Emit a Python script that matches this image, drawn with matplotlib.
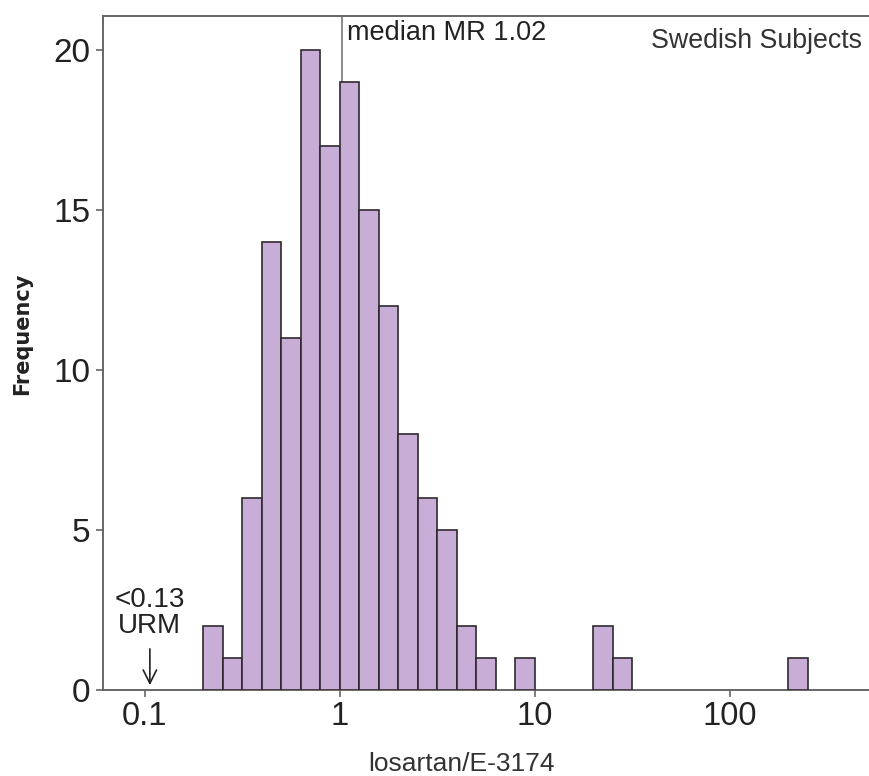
import numpy as np
import matplotlib
matplotlib.use("Agg")
import matplotlib.pyplot as plt

# histogram of losartan/E-3174 ratios, bins 0.1 decade wide (log10 of left edge)
log_left = [-0.7, -0.6, -0.5, -0.4, -0.3, -0.2, -0.1, 0.0, 0.1, 0.2,
            0.3, 0.4, 0.5, 0.6, 0.7, 0.9, 1.3, 1.4, 2.3]
counts = [2, 1, 6, 14, 11, 20, 17, 19, 15, 12,
          8, 6, 5, 2, 1, 1, 2, 1, 1]
bin_w = 0.1
median_mr = 1.02
xticks = [0.1, 1, 10, 100]
xticklabels = ["0.1", "1", "10", "100"]
yticks = [0, 5, 10, 15, 20]

plt.rcParams['font.family'] = ['Liberation Sans', 'DejaVu Sans']

left = 10 ** np.array(log_left)
right = 10 ** (np.array(log_left) + bin_w)

fig = plt.figure(figsize=(8.7, 7.76), dpi=100)
ax = fig.add_axes([103/870, 1-690/776, 767/870, (690-15.7)/776])

ax.bar(left, counts, width=right - left, align='edge',
       color='#c8aed6', edgecolor='#2e2a30', linewidth=1.2, zorder=3)
ax.axvline(median_mr, color='#777777', lw=1.2, zorder=2)

ax.set_xscale('log')
ax.set_xlim(10 ** -1.215, 10 ** 2.718)
ax.set_ylim(0, 21.07)
ax.set_xticks(xticks)
ax.set_xticklabels(xticklabels)
ax.xaxis.set_minor_locator(matplotlib.ticker.NullLocator())
ax.set_yticks(yticks)

for s in ['left', 'bottom', 'top']:
    ax.spines[s].set_color('#666666')
    ax.spines[s].set_linewidth(1.4)
ax.spines['right'].set_visible(False)
ax.tick_params(axis='both', length=5, width=1.2, color='#666666', labelcolor='#222222')
ax.tick_params(axis='x', labelsize=23.5, pad=3)
ax.tick_params(axis='y', labelsize=24, pad=4)

ax.text(1.09, 20.95, "median MR 1.02", fontsize=19.5, color='#222222', va='top', ha='left')
ax.text(0.99, 0.982, "Swedish Subjects", fontsize=19.3, color='#333333',
        transform=ax.transAxes, va='top', ha='right')
ax.annotate("<0.13\nURM", xy=(0.106, 0.15), xytext=(0.106, 2.4), fontsize=20,
            color='#222222', ha='center', va='center', linespacing=1.0,
            arrowprops=dict(arrowstyle='->', color='#222222', lw=1.2,
                            shrinkA=5, shrinkB=0, mutation_scale=24))

fig.text(462/870, 1-764/776, "losartan/E-3174", fontsize=19, color='#333333',
         ha='center', va='center')
fig.text(22/870, 1-334/776, "Frequency", fontsize=15, fontweight='bold',
         family='DejaVu Sans', color='#222222', rotation=90, ha='center', va='center')

fig.savefig("out.png", dpi=100)
